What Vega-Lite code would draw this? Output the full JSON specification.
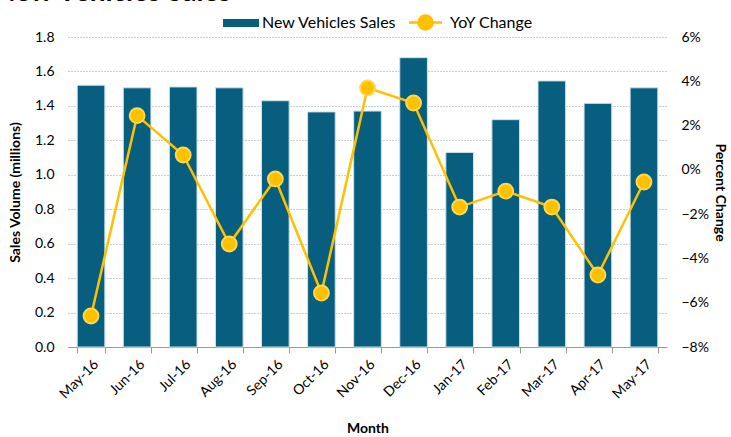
{
  "$schema": "https://vega.github.io/schema/vega-lite/v6.json",
  "width": 599,
  "height": 310,
  "autosize": {"type": "none"},
  "padding": {"left": 68, "top": 37, "right": 64, "bottom": 90},
  "background": "white",
  "title": {
    "text": "New Vehicles Sales",
    "anchor": "start",
    "frame": "group",
    "orient": "top",
    "baseline": "alphabetic",
    "offset": 7,
    "dx": -74,
    "dy": 25,
    "font": "Lato",
    "fontSize": 28,
    "fontWeight": "bold",
    "color": "#000000"
  },
  "config": {
    "font": "Lato",
    "view": {"stroke": null},
    "axis": {"labelFont": "Lato", "titleFont": "Lato", "labelColor": "#000000", "titleColor": "#000000"}
  },
  "data": {
    "values": [
      {"month": "May-16", "sales": 1.52, "yoy": -0.066},
      {"month": "Jun-16", "sales": 1.505, "yoy": 0.0245},
      {"month": "Jul-16", "sales": 1.51, "yoy": 0.0067},
      {"month": "Aug-16", "sales": 1.505, "yoy": -0.0335},
      {"month": "Sep-16", "sales": 1.43, "yoy": -0.0041},
      {"month": "Oct-16", "sales": 1.365, "yoy": -0.0556},
      {"month": "Nov-16", "sales": 1.37, "yoy": 0.037},
      {"month": "Dec-16", "sales": 1.68, "yoy": 0.0302},
      {"month": "Jan-17", "sales": 1.13, "yoy": -0.0168},
      {"month": "Feb-17", "sales": 1.32, "yoy": -0.0096},
      {"month": "Mar-17", "sales": 1.545, "yoy": -0.0168},
      {"month": "Apr-17", "sales": 1.415, "yoy": -0.0475},
      {"month": "May-17", "sales": 1.505, "yoy": -0.0055}
    ]
  },
  "encoding": {
    "x": {
      "field": "month",
      "type": "ordinal",
      "sort": null,
      "scale": {"paddingInner": 0.4, "paddingOuter": 0.2},
      "axis": {
        "title": "Month",
        "titleFontSize": 14,
        "titleFontWeight": "bold",
        "titlePadding": 20,
        "labelAngle": -45,
        "labelFontSize": 14,
        "labelPadding": 4,
        "domainColor": "#999999",
        "tickColor": "#999999",
        "tickBand": "extent",
        "tickSize": 6,
        "grid": false
      }
    }
  },
  "layer": [
    {
      "mark": {"type": "bar", "stroke": "#cfe3ea", "strokeWidth": 1},
      "encoding": {
        "y": {
          "field": "sales",
          "type": "quantitative",
          "scale": {"domain": [0, 1.8], "nice": false},
          "axis": {
            "title": "Sales Volume (millions)",
            "titleFontSize": 14,
            "titleFontWeight": "bold",
            "titlePadding": 12,
            "values": [0, 0.2, 0.4, 0.6, 0.8, 1.0, 1.2, 1.4, 1.6, 1.8],
            "format": ".1f",
            "labelFontSize": 14,
            "labelPadding": 14,
            "domain": false,
            "ticks": false,
            "grid": true,
            "gridColor": "#9a9a9a",
            "gridDash": [1, 2],
            "gridWidth": 1
          }
        },
        "color": {
          "datum": "New Vehicles Sales",
          "type": "nominal",
          "scale": {"domain": ["New Vehicles Sales"], "range": ["#075E7E"]},
          "legend": {
            "title": null,
            "orient": "none",
            "legendX": 161,
            "legendY": -26,
            "symbolType": "M-1.5,-0.34H1.5V0.34H-1.5Z",
            "symbolSize": 576,
            "symbolStrokeWidth": 0,
            "labelFontSize": 16,
            "labelColor": "#000000",
            "labelOffset": 9
          }
        }
      }
    },
    {
      "mark": {"type": "line", "strokeWidth": 2.5, "color": "#FFC000"},
      "encoding": {
        "y": {
          "field": "yoy",
          "type": "quantitative",
          "scale": {"domain": [-0.08, 0.06], "nice": false},
          "axis": {
            "orient": "right",
            "title": "Percent Change",
            "titleFontSize": 14,
            "titleFontWeight": "bold",
            "titleAngle": 90,
            "titlePadding": 4,
            "values": [-0.08, -0.06, -0.04, -0.02, 0, 0.02, 0.04, 0.06],
            "format": ".0%",
            "labelFontSize": 14,
            "labelPadding": 14,
            "domain": false,
            "ticks": false,
            "grid": false
          }
        }
      }
    },
    {
      "mark": {"type": "point", "filled": true, "size": 220, "opacity": 1, "stroke": "#FFD84D", "strokeWidth": 2},
      "encoding": {
        "y": {"field": "yoy", "type": "quantitative", "scale": {"domain": [-0.08, 0.06], "nice": false}, "axis": null},
        "fill": {
          "datum": "YoY Change",
          "type": "nominal",
          "scale": {"domain": ["YoY Change"], "range": ["#FFC000"]},
          "legend": {
            "title": null,
            "orient": "none",
            "legendX": 346,
            "legendY": -26,
            "symbolType": "M-1.65,0H-0.7M0.7,0H1.65M0.7,0A0.7,0.7,0,1,1,-0.7,0A0.7,0.7,0,1,1,0.7,0Z",
            "symbolSize": 400,
            "symbolStrokeColor": "#FFC000",
            "symbolStrokeWidth": 2.5,
            "symbolFillColor": "#FFC000",
            "labelFontSize": 16,
            "labelColor": "#000000",
            "labelOffset": 13
          }
        }
      }
    }
  ],
  "resolve": {"scale": {"y": "independent", "color": "independent"}}
}
